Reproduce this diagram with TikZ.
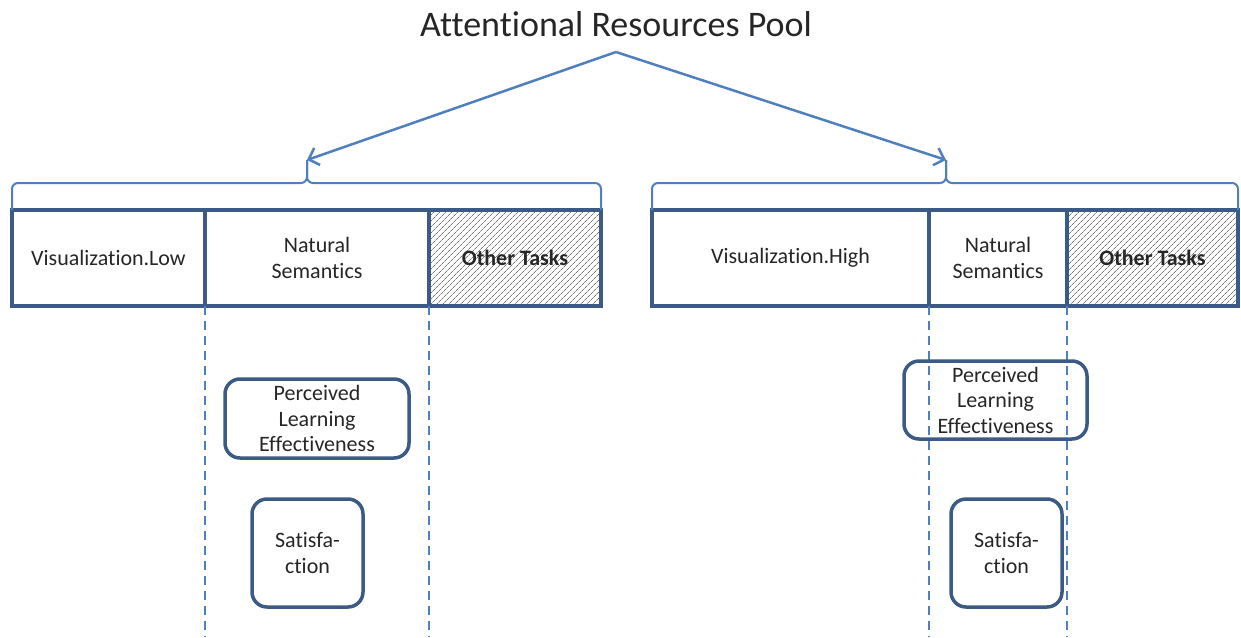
\documentclass[tikz,border=0pt]{standalone}
\usepackage{fontspec}
\setmainfont[Ligatures={NoCommon,NoContextual}, Contextuals=NoAlternate]{Carlito}
\usetikzlibrary{arrows.meta,patterns.meta}
\definecolor{barblue}{HTML}{3C5A86}
\definecolor{linkblue}{HTML}{4F7FBE}
\definecolor{inkgrey}{HTML}{262626}
\newcommand{\labfont}[0]{\fontsize{22}{25.5}\selectfont}
\newcommand{\bracket}[4]{\draw[bracket, rounded corners=6] (#1,210) |- (#3,183) -- (#3,160) coordinate (#4);
	\draw[bracket, rounded corners=6] (#2,210) |- (#3,183) -- (#3,160);}
\newcommand{\guide}[1]{\draw[guide] (#1) -- (#1 |- 0,637);}
\tikzset{
	cell/.style={draw=barblue, line width=3.5pt, minimum height=96, outer sep=0pt, inner sep=0pt, text=inkgrey, font=\labfont, align=center},
	busy/.style={cell, pattern={Lines[angle=45,distance=4pt,line width=0.8pt]}, pattern color=gray!95!black, font=\labfont\bfseries},
	goal/.style={draw=barblue, line width=3.5pt, rounded corners=15, outer sep=0pt, inner sep=0pt, text=inkgrey, font=\labfont, align=center},
	bracket/.style={draw=linkblue, line width=2pt},
	guide/.style={draw=linkblue, line width=2.5pt, dash pattern=on 9pt off 6pt},
	share/.style={draw=linkblue, line width=2.5pt, -{Straight Barb[length=9pt,width=18pt]}}
}
\begin{document}
\begin{tikzpicture}[x=1pt,y=-1pt]
	\useasboundingbox (0,0) rectangle (1241,637);
	\node[text=inkgrey, font=\fontsize{36}{40}\selectfont] (pool) at (616,24) {Attentional Resources Pool};
	\coordinate (apex) at (616,52);
	% low visualization
	\node[cell, minimum width=193] (vlow) at (108.5,258) {Visualization.Low};
	\node[cell, minimum width=224] (nsl) at (317,258) {Natural\\Semantics};
	\node[busy, minimum width=172] (otl) at (515,258) {Other Tasks};
	% high visualization
	\node[cell, minimum width=277] (vhigh) at (790.5,258) {Visualization.High};
	\node[cell, minimum width=138] (nsh) at (998,258) {Natural\\Semantics};
	\node[busy, minimum width=171] (oth) at (1152.5,258) {Other Tasks};
	\bracket{12}{601}{307}{tipl}
	\bracket{652}{1238}{946}{tiph}
	\draw[share] (apex) -- (tipl);
	\draw[share] (apex) -- (tiph);
	\guide{nsl.south west}
	\guide{nsl.south east}
	\guide{nsh.south west}
	\guide{nsh.south east}
	\node[goal, minimum width=184, minimum height=79] (plel) at (317,418.5) {Perceived\\Learning\\Effectiveness};
	\node[goal, minimum width=111, minimum height=108] (satl) at (307.5,553) {Satisfa-\\ction};
	\node[goal, minimum width=183, minimum height=78] (pleh) at (995.5,400) {Perceived\\Learning\\Effectiveness};
	\node[goal, minimum width=111, minimum height=108] (sath) at (1006.5,553) {Satisfa-\\ction};
\end{tikzpicture}
\end{document}
